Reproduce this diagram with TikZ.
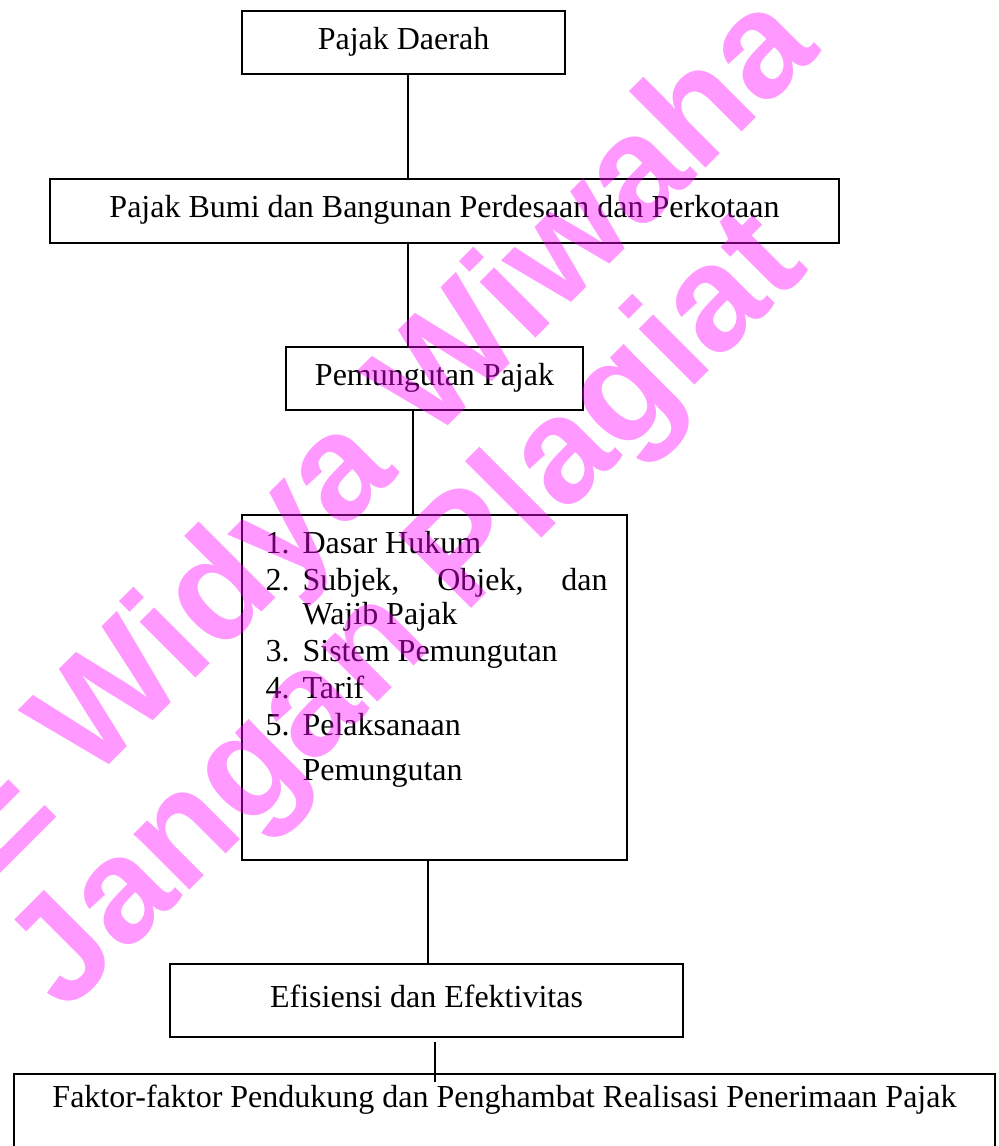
\documentclass[tikz,border=0pt]{standalone}
\usepackage{fontspec}
\setmainfont{Liberation Serif}
\newfontfamily\wmfont{Liberation Sans}
\usepackage{tikz}
\definecolor{wmpink}{RGB}{255,0,255}

\begin{document}
\begin{tikzpicture}[
    x=0.375pt, y=-0.375pt,
    box/.style={rectangle, draw=black, line width=0.75pt, inner sep=0pt,
        font=\fontsize{12}{14}\selectfont, text height=0.75em, text depth=0.25em},
    link/.style={draw=black, line width=0.75pt},
    wm/.style={text=wmpink, text opacity=0.4, inner sep=0pt,
        font=\wmfont\bfseries\fontsize{56}{60}\selectfont},
    ]
    \useasboundingbox (0,0) rectangle (998,1146);
    \node[box, minimum width=121.1pt, minimum height=23.6pt] (daerah) at (403.5,42.5) {Pajak Daerah};
    \node[box, minimum width=295.9pt, minimum height=24pt] (pbb) at (444.5,211) {Pajak Bumi dan Bangunan Perdesaan dan Perkotaan};
    \node[box, minimum width=111.4pt, minimum height=23.6pt] (pungut) at (434.5,378.5) {Pemungutan Pajak};
    \node[box, minimum width=144.4pt, minimum height=129.4pt] (rincian) at (434.5,687.5) {};
    \node[anchor=base west, inner sep=0pt, font=\fontsize{12}{13.9}\selectfont] (butir) at (265,553) {%
        \begin{tabular}[t]{@{}p{13.9pt}@{}l@{}}
        1. & Dasar Hukum\\
        2. & \makebox[114.4pt][s]{Subjek, Objek, dan}\\[-1.1pt]
           & Wajib Pajak\\
        3. & Sistem Pemungutan\\
        4. & Tarif\\
        5. & Pelaksanaan\\[3pt]
           & Pemungutan
        \end{tabular}};
    \node[box, minimum width=192.4pt, minimum height=27.4pt] (efisiensi) at (426.5,1000.5) {Efisiensi dan Efektivitas};
    \node[box, anchor=north, minimum width=367.9pt, inner ysep=4.9pt, text depth=22.5pt] (faktor) at (504.5,1073) {Faktor-faktor Pendukung dan Penghambat Realisasi Penerimaan Pajak};

    % garis penghubung
    \coordinate (s1) at (408,0);
    \coordinate (s3) at (413,0);
    \coordinate (s4) at (428,0);
    \coordinate (s5) at (435,0);
    \draw[link] (daerah.south -| s1) -- (pbb.north -| s1);
    \draw[link] (pbb.south -| s1) -- (pungut.north -| s1);
    \draw[link] (pungut.south -| s3) -- (rincian.north -| s3);
    \draw[link] (rincian.south -| s4) -- (efisiensi.north -| s4);
    \draw[link] (efisiensi.south -| s5) ++(0,4) -- ([yshift=-3.4pt]faktor.north -| s5);

    % watermark
    \node[wm, rotate=45, anchor=base west] (wmA) at (-10,884) {E Widya Wiwaha};
    \node[wm, rotate=45, anchor=base west] (wmB) at (65,1015) {Jangan Plagiat};
\end{tikzpicture}
\end{document}
